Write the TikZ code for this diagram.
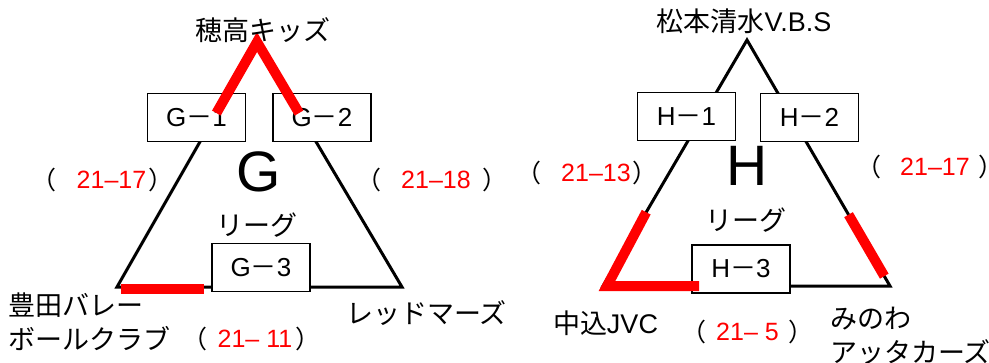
\documentclass[tikz,border=0pt]{standalone}
\usepackage{fontspec}
\setmainfont{Liberation Sans}
\newfontfamily\jp{Noto Sans CJK JP}
\usetikzlibrary{calc}
\begin{document}
\begin{tikzpicture}[x=1pt,y=-1pt,
  tri/.style={line width=3pt, draw=black},
  win/.style={line width=10pt, draw=red, line join=miter},
  gbox/.style={draw, line width=1.6pt, fill=white, minimum width=98pt, minimum height=48pt, inner sep=0pt, font=\fontsize{26}{26}\selectfont},
  team/.style={font=\jp\fontsize{27}{34}\selectfont, inner sep=0pt},
  big/.style={font=\fontsize{57}{57}\selectfont, inner sep=0pt},
  lg/.style={font=\jp\fontsize{27}{27}\selectfont, inner sep=0pt},
  score/.style={text=red, font=\fontsize{25}{25}\selectfont, inner sep=0pt},
  par/.style={font=\jp\fontsize{25}{25}\selectfont, inner sep=0pt},
]
\useasboundingbox (0,0) rectangle (989,362);

% ---------- G league ----------
\coordinate (gA) at (257,42);
\coordinate (gL) at (117,287);
\coordinate (gR) at (402,287);
\draw[tri] (gA) -- (gL) -- (gR) -- cycle;

\node[gbox] (g1) at (196.5,117.5) {G{\jp －}1};
\node[gbox] (g2) at (322,117.5) {G{\jp －}2};
\node[gbox] (g3) at (261,267.5) {G{\jp －}3};

\draw[win] ($(gA)!0.29!(gL)$) -- (gA) -- ($(gA)!0.29!(gR)$);
\draw[win] ($(gL)+(4,2)$) -- ($(gL)!0.305!(gR)+(0,2)$);

\node[team] (hotaka) at (262.5,30) {穂高キッズ};
\node[team, align=left, anchor=west] (toyota) at (8,322) {豊田バレー\\ボールクラブ};
\node[team] (red) at (426.5,313) {レッドマーズ};

\node[big] (gG) at (258.5,172) {G};
\node[lg] (gLg) at (257,225) {リーグ};

\node[par] (gp1a) at (44,180) {（};
\node[score] (gs1) at (111.5,180) {21–17};
\node[par] (gp1b) at (160.5,180) {）};

\node[par] (gp2a) at (369,180) {（};
\node[score] (gs2) at (436,180) {21–18};
\node[par] (gp2b) at (495,180) {）};

\node[par] (gp3a) at (195,339) {（};
\node[score] (gs3) at (255,339) {21– 11};
\node[par] (gp3b) at (308,339) {）};

% ---------- H league ----------
\coordinate (hA) at (747,40);
\coordinate (hL) at (603,286);
\coordinate (hR) at (890,286);
\draw[tri] (hA) -- (hL) -- (hR) -- cycle;

\node[gbox] (h1) at (686.5,116.5) {H{\jp －}1};
\node[gbox] (h2) at (809.5,117.5) {H{\jp －}2};
\node[gbox] (h3) at (741,269) {H{\jp －}3};

\draw[win] ($(hA)!0.70!(hL)$) -- ($(hL)+(4,0)$) -- ($(hL)!0.335!(hR)$);
\draw[win] ($(hA)!0.71!(hR)$) -- ($(hA)!0.96!(hR)$);

\node[team] (matsu) at (744,21) {松本清水\rmfamily V.B.S};
\node[team] (naka) at (605.5,323) {中込\rmfamily JVC};
\node[team, align=left, anchor=west] (minowa) at (830,336) {みのわ\\アッタカーズ};

\node[big] (hH) at (747.5,166) {H};
\node[lg] (hLg) at (746,220) {リーグ};

\node[par] (hp1a) at (529,173) {（};
\node[score] (hs1) at (596,173) {21–13};
\node[par] (hp1b) at (645,173) {）};

\node[par] (hp2a) at (869,167) {（};
\node[score] (hs2) at (935,167) {21–17};
\node[par] (hp2b) at (991,167) {）};

\node[par] (hp3a) at (694,332) {（};
\node[score] (hs3) at (747.5,332) {21– 5};
\node[par] (hp3b) at (801,332) {）};
\end{tikzpicture}
\end{document}
